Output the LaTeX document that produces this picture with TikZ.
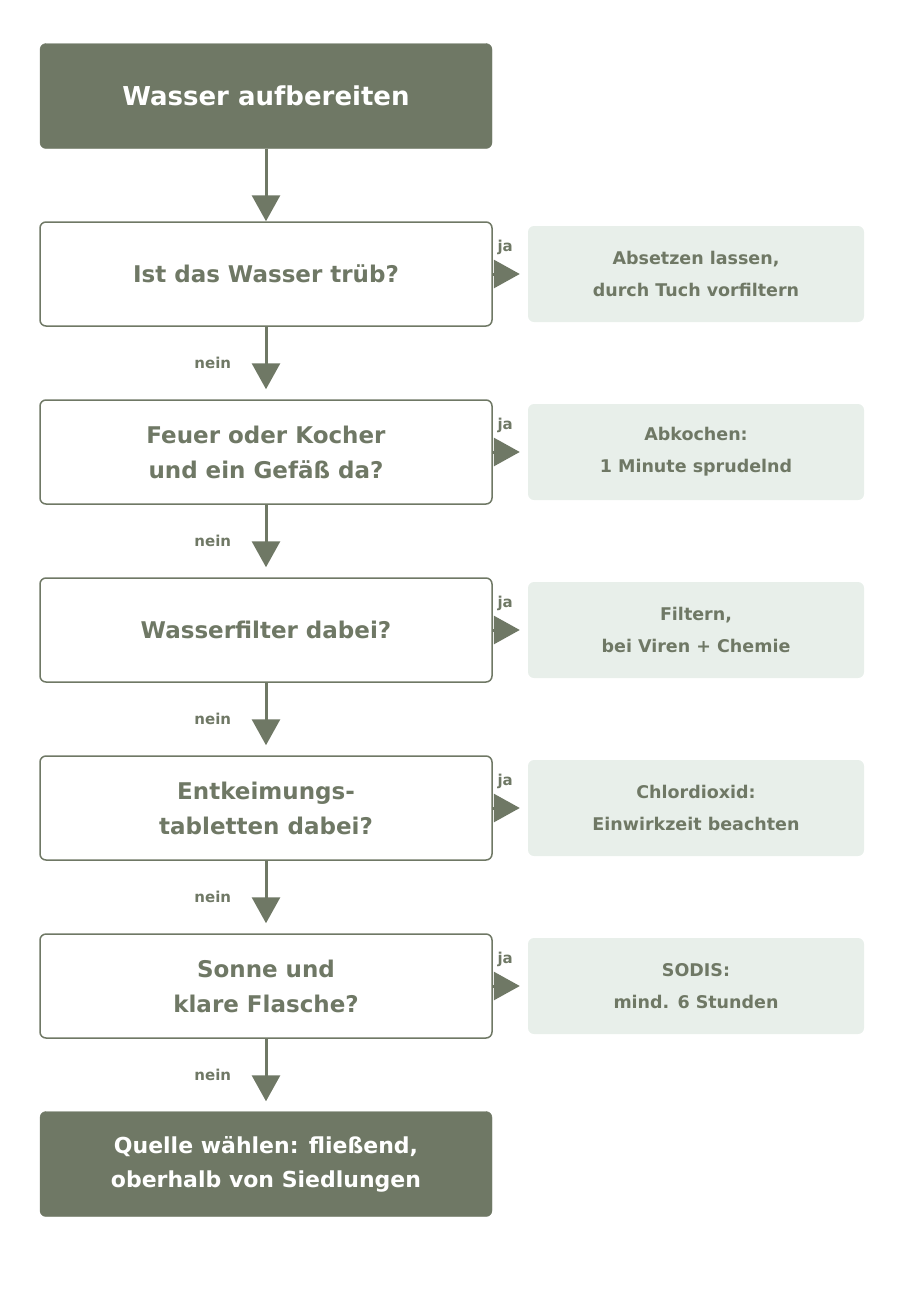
\documentclass[tikz,border=0pt]{standalone}
\usepackage{fontspec}
\setmainfont{DejaVu Sans}
\usetikzlibrary{positioning,arrows.meta}
\definecolor{olive}{HTML}{6F7865}
\definecolor{pale}{HTML}{E8EFEA}
\tikzset{
  head/.style={draw=olive,fill=olive,rounded corners=6pt,minimum width=452pt,minimum height=105pt,
    text=white,font=\bfseries\fontsize{26}{34}\selectfont,align=center},
  ask/.style={draw=olive,line width=1.5pt,fill=white,rounded corners=6pt,minimum width=452pt,minimum height=104pt,
    text=olive,font=\bfseries\fontsize{23}{35}\selectfont,align=center},
  todo/.style={fill=pale,rounded corners=6pt,minimum width=336pt,minimum height=96pt,
    text=olive,font=\bfseries\fontsize{17.5}{32}\selectfont,align=center},
  flow/.style={draw=olive,line width=3pt,-{Triangle[length=26pt,width=28pt]}},
  lbl/.style={text=olive,font=\bfseries\fontsize{15}{18}\selectfont}
}
\begin{document}
\begin{tikzpicture}[x=1pt,y=-1pt]
\useasboundingbox (0,0) rectangle (900,1310);
% main column
\node[head] (start) at (266,96) {Wasser aufbereiten};
\node[ask] (q1) at (266,274) {Ist das Wasser trüb?};
\node[ask] (q2) at (266,452) {Feuer oder Kocher\\und ein Gefäß da?};
\node[ask] (q3) at (266,630) {Wasserfilter dabei?};
\node[ask] (q4) at (266,808) {Entkeimungs-\\tabletten dabei?};
\node[ask] (q5) at (266,986) {Sonne und\\klare Flasche?};
\node[head,font=\bfseries\fontsize{22}{34}\selectfont] (stop) at (266,1164) {Quelle wählen: fließend,\\oberhalb von Siedlungen};
% side actions
\node[todo] (a1) at (696,274) {Absetzen lassen,\\durch Tuch vorfiltern};
\node[todo] (a2) at (696,452) {Abkochen:\\1 Minute sprudelnd};
\node[todo] (a3) at (696,630) {Filtern,\\bei Viren + Chemie};
\node[todo] (a4) at (696,808) {Chlordioxid:\\Einwirkzeit beachten};
\node[todo] (a5) at (696,986) {SODIS:\\mind. 6 Stunden};
% connectors
\draw[flow] (start) -- (q1);
\foreach \a/\b in {q1/q2,q2/q3,q3/q4,q4/q5,q5/stop}{
  \draw[flow,shorten >=10pt] (\a) -- (\b) node[lbl,pos=0.5,left=30pt] {nein};
}
\foreach \i in {1,...,5}{
  \draw[flow,shorten >=8pt] (q\i) -- (a\i) node[lbl,pos=0,above right=14pt and 0pt] {ja};
}
\end{tikzpicture}
\end{document}
